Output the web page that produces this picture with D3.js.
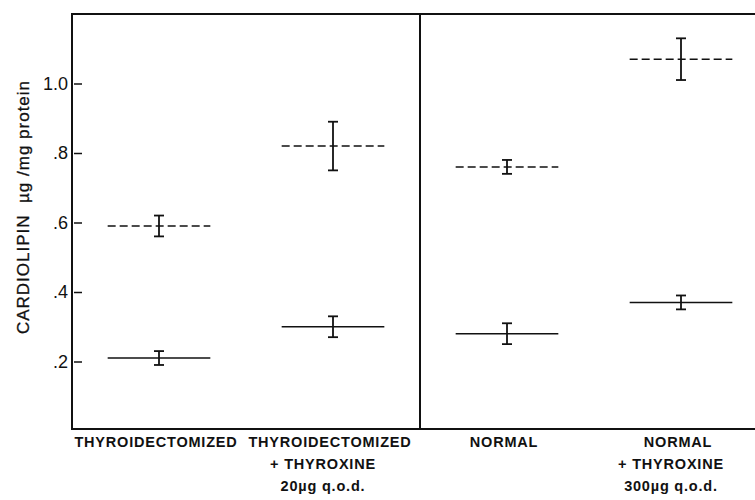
<!DOCTYPE html>
<html>
<head>
<meta charset="utf-8">
<script src="https://cdn.jsdelivr.net/npm/d3@7"></script>
<style>
  body { margin: 0; background: #fff; }
  text { font-family: "Liberation Sans", Arial, sans-serif; fill: #111; }
</style>
</head>
<body>
<svg id="chart" width="755" height="500"></svg>
<script>
// groups along the x axis
const groups = ["thx", "thx_t4", "normal", "normal_t4"];
const groupLabels = [
  ["THYROIDECTOMIZED"],
  ["THYROIDECTOMIZED", "+ THYROXINE", "20\u00b5g q.o.d."],
  ["NORMAL"],
  ["NORMAL", "+ THYROXINE", "300\u00b5g q.o.d."]
];
// lower series (solid line) : mean and error
const solidMean = [0.21, 0.30, 0.28, 0.37];
const solidErr  = [0.02, 0.03, 0.03, 0.02];
// upper series (dashed line)
const dashMean = [0.59, 0.82, 0.76, 1.07];
const dashErr  = [0.03, 0.07, 0.02, 0.06];

const yTicks = [0.2, 0.4, 0.6, 0.8, 1.0];
const yTickLabels = [".2", ".4", ".6", ".8", "1.0"];

const svg = d3.select("#chart");
const plotLeft = 72, plotTop = 14, plotBottom = 429, plotRight = 768;

const x = d3.scaleBand().domain(groups).range([plotLeft, plotRight]).padding(0);
const y = d3.scaleLinear().domain([0, 1.2]).range([431, plotTop]);

const cx = g => x(g) + x.bandwidth() / 2;
const halfLine = x.bandwidth() * 0.295;
const cap = 5;

// frame
svg.append("rect")
  .attr("x", plotLeft).attr("y", plotTop)
  .attr("width", plotRight - plotLeft).attr("height", plotBottom - plotTop)
  .attr("fill", "none").attr("stroke", "#111").attr("stroke-width", 2);

// divider between thyroidectomized and normal
svg.append("line")
  .attr("x1", x("normal")).attr("x2", x("normal"))
  .attr("y1", plotTop).attr("y2", plotBottom)
  .attr("stroke", "#111").attr("stroke-width", 2);

// y axis
const yAxis = d3.axisLeft(y)
  .tickValues(yTicks)
  .tickFormat((d, i) => yTickLabels[i])
  .tickSize(-10)
  .tickPadding(4);

const ga = svg.append("g").attr("transform", `translate(${plotLeft},0)`).call(yAxis);
ga.select(".domain").remove();
ga.selectAll(".tick line").attr("stroke", "#111").attr("stroke-width", 1.5).attr("x1", 2);
ga.selectAll(".tick text")
  .style("font-size", "18px")
  .attr("fill", "#111");

// y label
svg.append("text")
  .attr("transform", "translate(29,207) rotate(-90)")
  .attr("text-anchor", "middle")
  .attr("xml:space", "preserve")
  .style("font-size", "17px")
  .style("letter-spacing", "1px")
  .attr("stroke", "#111").attr("stroke-width", 0.3)
  .text("CARDIOLIPIN  \u00b5g /mg protein");

// series
function drawSeries(means, errs, dashed) {
  const g = svg.append("g");
  g.selectAll("line.mean")
    .data(groups)
    .join("line")
    .attr("class", "mean")
    .attr("x1", d => cx(d) - halfLine)
    .attr("x2", d => cx(d) + halfLine)
    .attr("y1", (d, i) => y(means[i]))
    .attr("y2", (d, i) => y(means[i]))
    .attr("stroke", "#111")
    .attr("stroke-width", 1.5)
    .attr("stroke-dasharray", dashed ? "8,4" : null);

  const eb = g.selectAll("g.err").data(groups).join("g").attr("class", "err");
  eb.append("line")
    .attr("x1", d => cx(d)).attr("x2", d => cx(d))
    .attr("y1", (d, i) => y(means[i] + errs[i]))
    .attr("y2", (d, i) => y(means[i] - errs[i]));
  eb.append("line")
    .attr("x1", d => cx(d) - cap).attr("x2", d => cx(d) + cap)
    .attr("y1", (d, i) => y(means[i] + errs[i]))
    .attr("y2", (d, i) => y(means[i] + errs[i]));
  eb.append("line")
    .attr("x1", d => cx(d) - cap).attr("x2", d => cx(d) + cap)
    .attr("y1", (d, i) => y(means[i] - errs[i]))
    .attr("y2", (d, i) => y(means[i] - errs[i]));
  eb.selectAll("line").attr("stroke", "#111").attr("stroke-width", 1.8);
}
drawSeries(dashMean, dashErr, true);
drawSeries(solidMean, solidErr, false);

// x labels, centred under the marks; the "+ THYROXINE" lines sit a bit left
const xl = svg.append("g");
groups.forEach((gname, i) => {
  const t = xl.append("text")
    .attr("y", 447)
    .attr("text-anchor", "middle")
    .style("font-size", "14.5px")
    .style("font-weight", "bold")
    .style("letter-spacing", "0.8px");
  groupLabels[i].forEach((line, j) => {
    t.append("tspan")
      .attr("x", cx(gname) - (j === 0 ? 3 : 10))
      .attr("dy", j === 0 ? 0 : 22)
      .text(line);
  });
});
</script>
</body>
</html>
